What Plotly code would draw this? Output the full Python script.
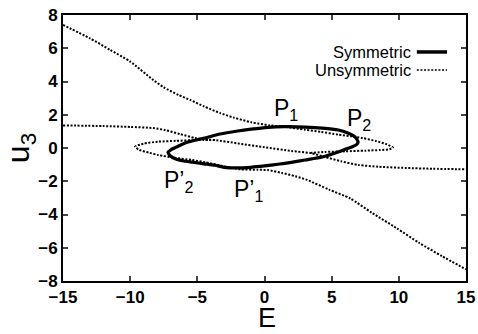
import plotly.graph_objects as go

# Symmetric solution (closed loop)
sym_E = [-7.18, -6.95, -6.66, -6.2, -5.7, -5.0, -4.43, -3.31, -2.0, -1.0, 0.26, 1.5, 3.02, 4.3, 5.5, 6.2, 6.75, 6.97,
         6.85, 6.5, 6.0, 5.48, 4.3, 3.02, 2.0, 1.0, 0.0, -1.0, -2.0, -3.0, -3.68, -4.5, -5.4, -6.0, -6.6, -7.0, -7.18]
sym_u = [-0.26, -0.1, 0.02, 0.2, 0.36, 0.5, 0.6, 0.84, 1.02, 1.13, 1.24, 1.28, 1.26, 1.2, 1.08, 0.9, 0.66, 0.36,
         0.2, 0.06, -0.08, -0.24, -0.54, -0.72, -0.86, -0.98, -1.08, -1.16, -1.2, -1.16, -1.04, -0.95, -0.85, -0.78, -0.66, -0.48, -0.26]

# Unsymmetric solutions
# branch 1: upper-left tail -> right part of loop -> joins middle line
un1_E = [-15, -13, -11.5, -10, -8.3, -7.5, -6.4, -5.5, -4.5, -3.3, -2.3, -1.0, 0.4, 1.5, 3.0, 4.2, 5.5, 6.5, 7.3, 8.3, 9.1, 9.57,
         9.3, 8.6, 7.5, 6.0, 4.5, 3.4]
un1_u = [7.4, 6.6, 5.9, 5.2, 4.1, 3.65, 3.19, 2.88, 2.5, 2.1, 1.83, 1.55, 1.36, 1.28, 1.1, 0.97, 0.8, 0.7, 0.6, 0.42, 0.22, 0.02,
         -0.08, -0.12, -0.16, -0.2, -0.24, -0.3]
# branch 2: middle line -> left part of loop -> lower-right tail
un2_E = [-3.68, -4.5, -5.4, -6.6, -7.93, -9.0, -9.64, -9.3, -8.6, -7.93, -6.6, -5.4, -4.4, -3.46, -2.6, -1.8, -0.5, 0.26, 1.3,
         2.3, 3.17, 4.8, 6.37, 8.0, 9.85, 11.5, 13.2, 15]
un2_u = [0.48, 0.48, 0.47, 0.43, 0.38, 0.26, 0.08, -0.12, -0.28, -0.42, -0.6, -0.72, -0.86, -1.02, -1.16, -1.28, -1.31, -1.33, -1.5,
         -1.7, -1.92, -2.5, -3.03, -3.9, -4.83, -5.7, -6.5, -7.3]
# branch 3: flat tails through the middle
un3_E = [-15, -12, -10, -8.3, -7.4, -6.3, -5.17, -4.2, -3.68, -2.0, 0.0, 2.0, 3.4, 4.5, 5.7, 7.0, 8.5, 10.5, 12.5, 15]
un3_u = [1.36, 1.32, 1.27, 1.2, 1.08, 0.84, 0.6, 0.5, 0.48, 0.28, 0.04, -0.18, -0.3, -0.54, -0.8, -1.02, -1.13, -1.2, -1.25, -1.28]

x_ticks = [-15, -10, -5, 0, 5, 10, 15]
y_ticks = [-8, -6, -4, -2, 0, 2, 4, 6, 8]

labels = ["P<sub>1</sub>", "P<sub>2</sub>", "P’<sub>2</sub>", "P’<sub>1</sub>"]
label_E = [1.6, 7.0, -6.4, -1.2]
label_u = [2.3, 1.7, -2.0, -2.55]

FONT = "Liberation Sans"
DOT = "2px,1.6px"
fig = go.Figure()
for E, u in [(un1_E, un1_u), (un2_E, un2_u), (un3_E, un3_u)]:
    fig.add_trace(go.Scatter(x=E, y=u, mode="lines", line=dict(color="black", width=2, dash=DOT, shape="spline", smoothing=0.6),
                             showlegend=False, hoverinfo="skip"))
fig.add_trace(go.Scatter(x=sym_E, y=sym_u, mode="lines", line=dict(color="black", width=3.2, shape="spline", smoothing=0.6),
                         showlegend=False, hoverinfo="skip"))

for t, e, u in zip(labels, label_E, label_u):
    fig.add_annotation(x=e, y=u, text=t, showarrow=False, font=dict(family=FONT, size=23, color="black"))

# legend (text on left, sample on right)
fig.add_annotation(xref="paper", yref="paper", x=0.868, y=0.861, xanchor="right", yanchor="middle", text="Symmetric",
                   showarrow=False, font=dict(family=FONT, size=16.5, color="black"))
fig.add_annotation(xref="paper", yref="paper", x=0.868, y=0.793, xanchor="right", yanchor="middle", text="Unsymmetric",
                   showarrow=False, font=dict(family=FONT, size=16.5, color="black"))
fig.add_shape(type="line", xref="paper", yref="paper", x0=0.878, x1=0.953, y0=0.861, y1=0.861, line=dict(color="black", width=3.5))
fig.add_shape(type="line", xref="paper", yref="paper", x0=0.878, x1=0.953, y0=0.793, y1=0.793, line=dict(color="black", width=1.5, dash=DOT))

# x-axis title as annotation (placed just below tick labels)
fig.add_annotation(xref="paper", yref="paper", x=0.506, y=-0.08, xanchor="center", yanchor="top", text="E",
                   showarrow=False, font=dict(family=FONT, size=27, color="black"), borderpad=0)

tickfont = dict(family=FONT, size=17, color="black", weight="bold")
fig.update_xaxes(range=[-15, 15], tickvals=x_ticks, ticks="inside", ticklen=5, tickwidth=1.5, mirror="ticks", showline=True,
                 linecolor="black", linewidth=2, showgrid=False, zeroline=False, tickfont=tickfont, automargin=False)
fig.update_yaxes(range=[-8, 8], tickvals=y_ticks, ticks="inside", ticklen=5, tickwidth=1.5, mirror="ticks", showline=True,
                 linecolor="black", linewidth=2, showgrid=False, zeroline=False, tickfont=tickfont, automargin=False,
                 title=dict(text="u<sub>3</sub>", font=dict(family=FONT, size=32, color="black"), standoff=0))
fig.update_layout(width=478, height=334, margin=dict(l=63, r=12, t=15, b=53), plot_bgcolor="white", paper_bgcolor="white")
fig.write_html("out.html")
